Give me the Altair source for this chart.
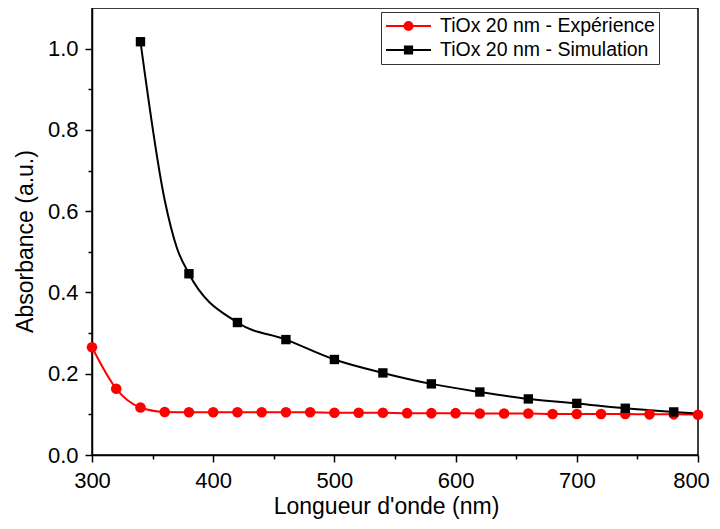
import altair as alt
import pandas as pd

# ---- data ----
series = ["TiOx 20 nm - Expérience", "TiOx 20 nm - Simulation"]
colors = ["#ff0000", "#000000"]

exp_nm = [300, 320, 340, 360, 380, 400, 420, 440, 460, 480, 500, 520, 540,
          560, 580, 600, 620, 640, 660, 680, 700, 720, 740, 760, 780, 800]
exp_abs = [0.265, 0.163, 0.117, 0.106, 0.105, 0.105, 0.105, 0.105, 0.105,
           0.105, 0.104, 0.104, 0.104, 0.103, 0.103, 0.103, 0.102, 0.102,
           0.102, 0.101, 0.101, 0.101, 0.101, 0.100, 0.100, 0.099]

sim_nm = [340, 360, 370, 380, 420, 460, 500, 540, 580, 620, 660, 700, 740, 780, 800]
sim_abs = [1.017, 0.627, 0.510, 0.446, 0.326, 0.284, 0.235, 0.202, 0.175,
           0.155, 0.138, 0.127, 0.115, 0.106, 0.102]
sim_marked = [True, False, False, True, True, True, True, True, True, True,
              True, True, True, True, False]

x_ticks = [300, 350, 400, 450, 500, 550, 600, 650, 700, 750, 800]
y_ticks = [0.0, 0.1, 0.2, 0.3, 0.4, 0.5, 0.6, 0.7, 0.8, 0.9, 1.0]

# legend symbols: line + marker
circle_sym = "M-1,0H4M1.95,0A0.45,0.45 0 1,1 1.05,0A0.45,0.45 0 1,1 1.95,0Z"
square_sym = "M-1,0H4M1.1,-0.4H1.9V0.4H1.1Z"

rows = []
for n, a in zip(exp_nm, exp_abs):
    rows.append({"series": series[0], "nm": n, "abs": a, "marked": True})
for n, a, m in zip(sim_nm, sim_abs, sim_marked):
    rows.append({"series": series[1], "nm": n, "abs": a, "marked": m})
df = pd.DataFrame(rows)

FONT = "Liberation Sans"

xaxis = alt.Axis(
    values=x_ticks,
    labelExpr="datum.value % 100 == 0 ? datum.label : ''",
    tickSize={"condition": {"test": "datum.value % 100 != 0", "value": 4}, "value": 7},
    labelOffset={"condition": {"test": "datum.value == 800", "value": -7}, "value": 0},
    title="Longueur d'onde (nm)",
    format="d",
    labelFontSize=22,
    titleFontSize=23,
    labelPadding=8,
    titlePadding=4,
    titleX=294,
    labelOverlap=False,
    labelFlush=False,
    grid=False,
)
yaxis = alt.Axis(
    values=y_ticks,
    labelExpr="round(datum.value*10) % 2 == 0 ? format(datum.value, '.1f') : ''",
    tickSize={"condition": {"test": "round(datum.value*10) % 2 == 1", "value": 4}, "value": 7},
    title="Absorbance (a.u.)",
    labelFontSize=22,
    titleFontSize=23,
    labelPadding=7,
    titlePadding=10,
    titleY=233,
    labelOverlap=False,
    labelFlush=False,
    grid=False,
)

x = alt.X("nm:Q", scale=alt.Scale(domain=[300, 800], nice=False, zero=False), axis=xaxis)
y = alt.Y("abs:Q", scale=alt.Scale(domain=[0, 1.1], nice=False, zero=False), axis=yaxis)

base = alt.Chart(df)
exp_data = base.transform_filter(alt.datum.series == series[0])
sim_data = base.transform_filter(alt.datum.series == series[1])

line_exp = exp_data.mark_line(interpolate="monotone", strokeWidth=2, color=colors[0]).encode(x=x, y=y)
line_sim = sim_data.mark_line(interpolate="monotone", strokeWidth=2, color=colors[1]).encode(x=x, y=y)

circles = exp_data.mark_point(
    shape="circle", filled=True, size=112, opacity=1, clip=False, color=colors[0]
).encode(x=x, y=y)

squares = sim_data.transform_filter(alt.datum.marked).mark_point(
    shape="square", filled=True, size=88, opacity=1, clip=False, color=colors[1]
).encode(x=x, y=y)

leg = alt.Legend(
    title=None,
    orient="none",
    legendX=289,
    legendY=4,
    symbolSize=324,
    symbolStrokeWidth=2,
    symbolOpacity=1,
    labelOffset=35,
    labelFontSize=19.5,
    labelFont=FONT,
    labelColor="black",
    labelLimit=500,
    padding=4,
    rowPadding=4,
    strokeColor="#333333",
    fillColor="white",
)

# invisible marks (size 0) that only carry the legend
legend_layer = base.transform_filter(alt.datum.marked).mark_point(
    filled=True, size=0, strokeWidth=0
).encode(
    x=x,
    y=y,
    fill=alt.Fill("series:N", scale=alt.Scale(domain=series, range=colors), legend=leg),
    stroke=alt.Stroke("series:N", scale=alt.Scale(domain=series, range=colors), legend=leg),
    shape=alt.Shape("series:N", scale=alt.Scale(domain=series, range=[circle_sym, square_sym]), legend=leg),
)

chart = (
    alt.layer(line_exp, line_sim, circles, squares, legend_layer)
    .properties(
        width=606,
        height=447,
        padding={"left": 84, "top": 0, "right": 14, "bottom": 66},
        autosize=alt.AutoSizeParams(type="none"),
        background="white",
    )
    .configure_view(stroke="black", strokeWidth=1.5)
    .configure_axis(
        labelFont=FONT,
        titleFont=FONT,
        labelColor="black",
        titleColor="black",
        titleFontWeight="normal",
        domainColor="black",
        tickColor="black",
        domainWidth=1.5,
        tickWidth=1.5,
    )
)

chart.save("out.html", embed_options={"renderer": "svg", "actions": False})
